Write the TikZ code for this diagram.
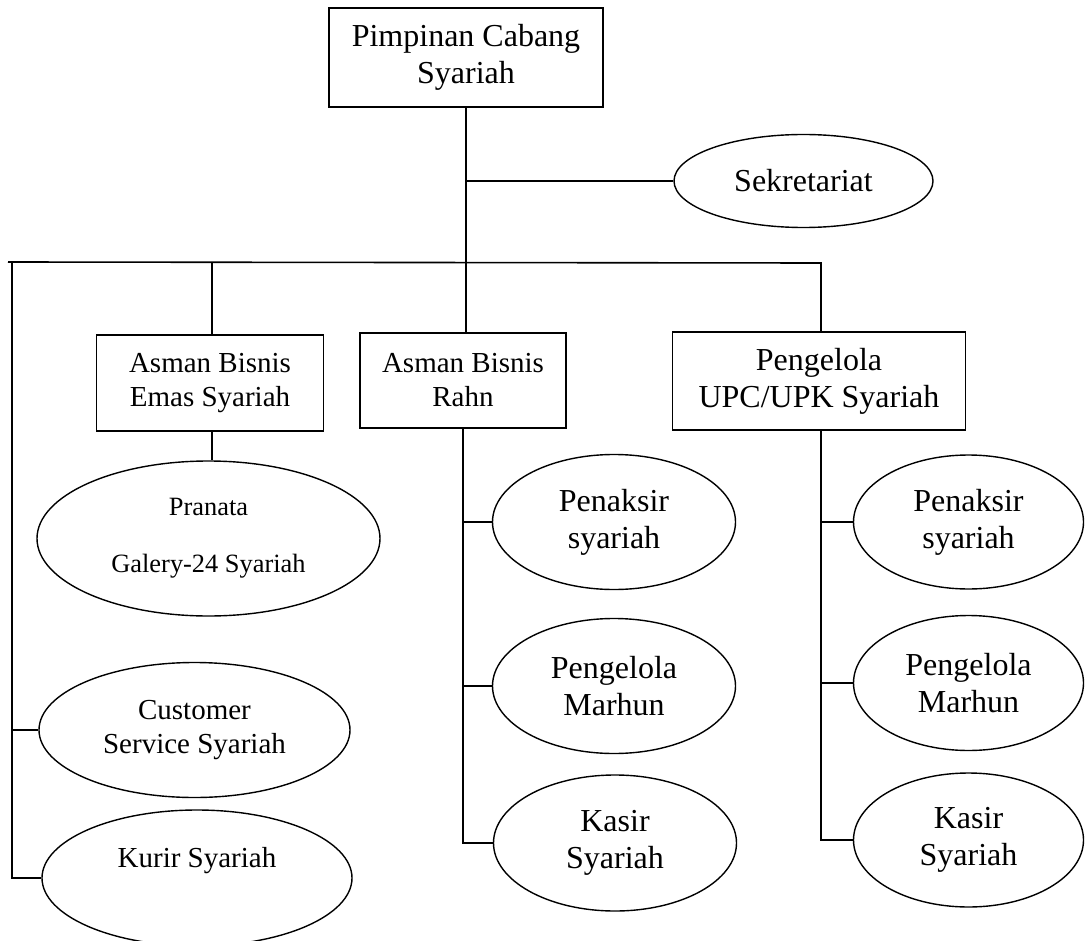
\documentclass[tikz,border=0pt]{standalone}
\usepackage{fontspec}
\setmainfont{Liberation Serif}
\usetikzlibrary{shapes.geometric}
\begin{document}
\begin{tikzpicture}[x=1pt,y=-1pt,
  conn/.style={line width=1.6pt},
  boxnode/.style={draw, line width=1.6pt, rectangle, inner sep=0pt, align=center},
  ellnode/.style={draw, line width=1.4pt, ellipse, inner sep=0pt, align=center},
  big/.style={font=\fontsize{32}{37}\selectfont},
  mid/.style={font=\fontsize{29}{34}\selectfont},
  small/.style={font=\fontsize{26.4}{57}\selectfont}]
\clip (0,0) rectangle (1086,941);
\fill[white] (0,0) rectangle (1086,941);

% boxes
\node[boxnode, big, minimum width=274pt, minimum height=99pt] (pc) at (466,57.5) {Pimpinan Cabang\\Syariah};
\node[boxnode, mid, minimum width=227pt, minimum height=96pt] (emas) at (210,383) {Asman Bisnis\\Emas Syariah};
\node[boxnode, mid, minimum width=206pt, minimum height=95pt] (rahn) at (463,380.5) {Asman Bisnis\\Rahn};
\node[boxnode, big, minimum width=293pt, minimum height=98pt] (upc) at (819,381) {Pengelola\\UPC/UPK Syariah};

% ellipses
\node[ellnode, big, minimum width=259pt, minimum height=93pt] (sek) at (803.5,181) {Sekretariat};
\node[ellnode, small, minimum width=343pt, minimum height=155pt] (pra) at (208.5,538.5) {Pranata\\Galery-24 Syariah};
\node[ellnode, mid, minimum width=311pt, minimum height=135pt] (cs) at (194.5,730) {Customer\\Service Syariah};
\node[ellnode, minimum width=310pt, minimum height=136pt] (kur) at (197,878) {};
\node[mid, anchor=base] (kurt) at (197,867) {Kurir Syariah};

\node[ellnode, big, minimum width=243pt, minimum height=135pt] (pen1) at (614,522) {Penaksir\\syariah};
\node[ellnode, big, minimum width=243pt, minimum height=135pt] (pm1) at (614,686) {Pengelola\\Marhun};
\node[ellnode, big, minimum width=243pt, minimum height=136pt] (ks1) at (615,843) {Kasir\\Syariah};

\node[ellnode, big, minimum width=230pt, minimum height=134pt] (pen2) at (968.5,522) {Penaksir\\syariah};
\node[ellnode, big, minimum width=230pt, minimum height=135pt] (pm2) at (968.5,683) {Pengelola\\Marhun};
\node[ellnode, big, minimum width=230pt, minimum height=134pt] (ks2) at (968.5,840) {Kasir\\Syariah};

% coordinates for the bar
\coordinate (barL) at (8,262);
\coordinate (barV) at (12,262);
\coordinate (barR) at (821,263);
\coordinate (sekJ) at (466,181);
\coordinate (emasS) at (212,431);

% trunk
\draw[conn] (pc.south) -- (pc.south |- rahn.north);
\draw[conn] (sekJ) -- (sek.west);
\draw[conn] (barL) -- (barR) -- (barR |- upc.north);
\draw[conn] (emasS |- barL) -- (emasS |- emas.north);
\draw[conn] (emasS) -- (emasS |- pra.north);
\draw[conn] (barV) -- (barV |- kur.west) -- (kur.west);
\draw[conn] (barV |- cs.west) -- (cs.west);

% Rahn column
\draw[conn] (rahn.south) -- (rahn.south |- ks1.west) -- (ks1.west);
\draw[conn] (rahn.south |- pen1.west) -- (pen1.west);
\draw[conn] (rahn.south |- pm1.west) -- (pm1.west);

% UPC column
\coordinate (upcS) at (821,430);
\draw[conn] (upcS) -- (upcS |- ks2.west) -- (ks2.west);
\draw[conn] (upcS |- pen2.west) -- (pen2.west);
\draw[conn] (upcS |- pm2.west) -- (pm2.west);
\end{tikzpicture}
\end{document}
